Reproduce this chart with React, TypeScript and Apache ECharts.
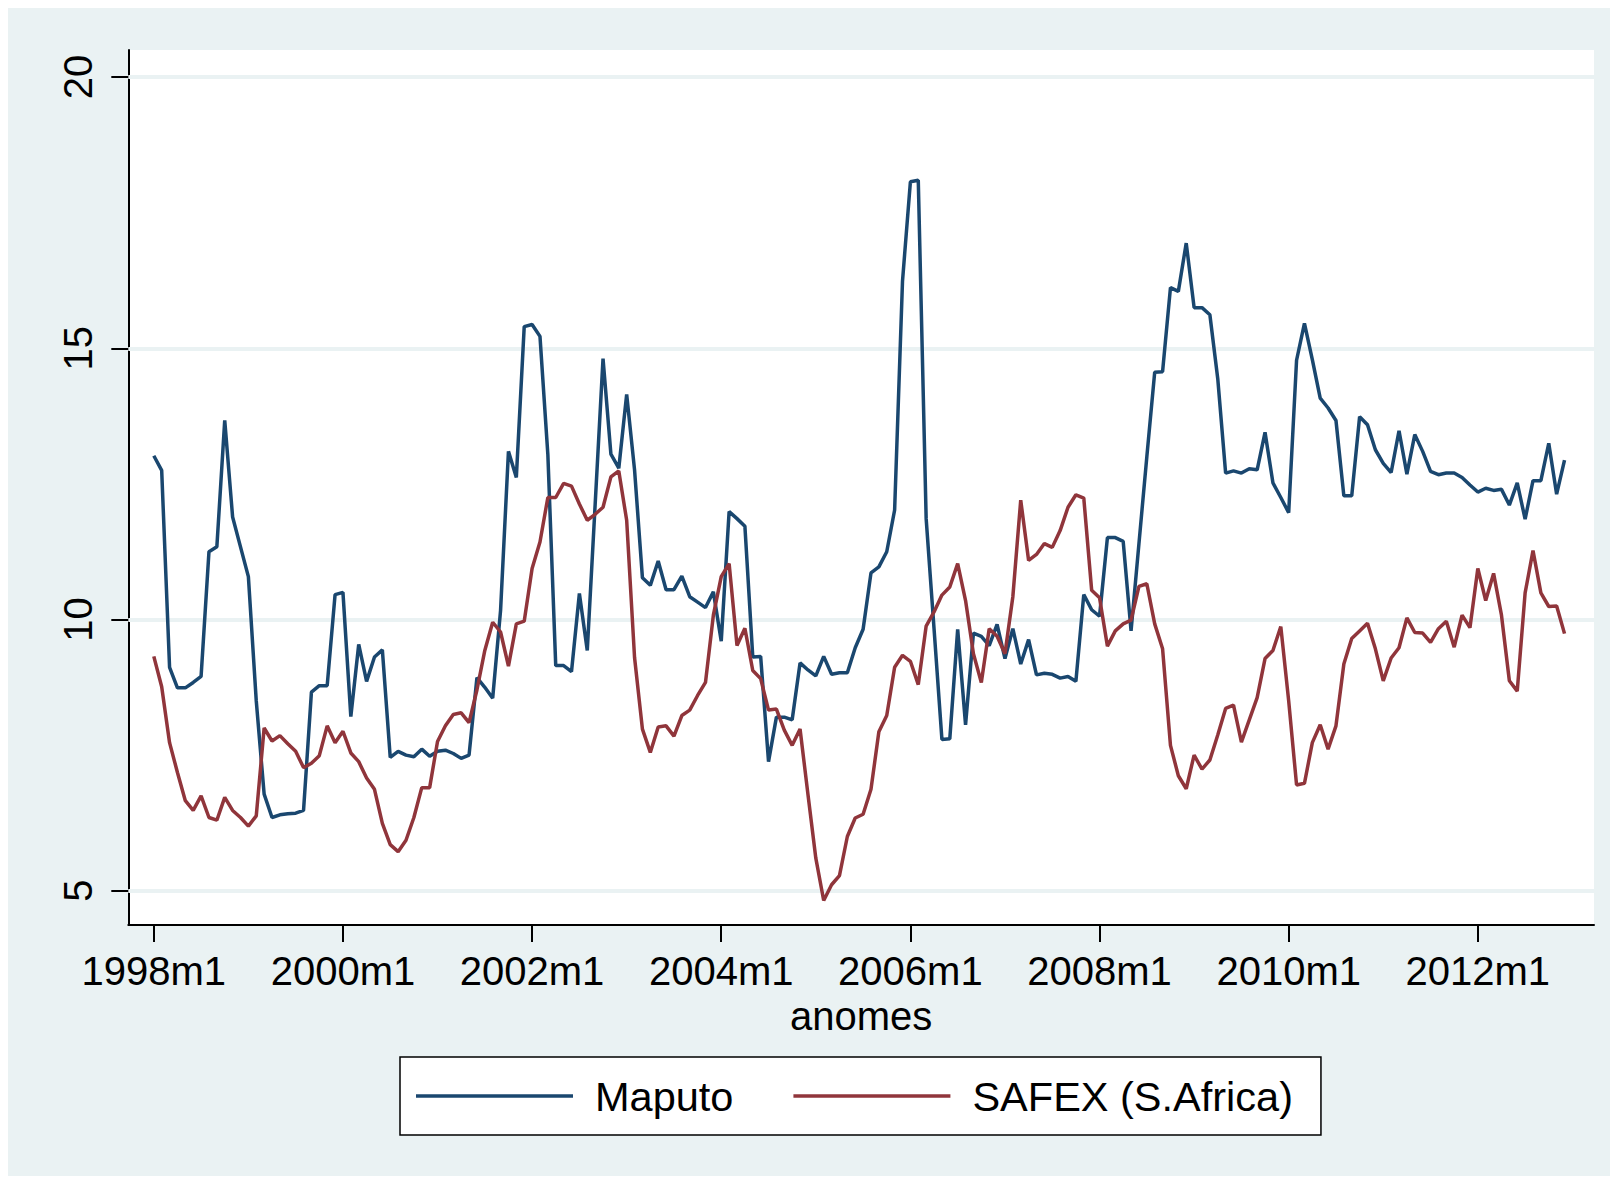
import React, { useEffect, useRef } from "react";
import * as echarts from "echarts";

// Monthly series, 1998m1 .. 2012m12 (180 months)
const maputo = [
  13.02, 12.75, 9.12, 8.74, 8.74, 8.84, 8.95, 11.25, 11.34, 13.67, 11.89, 11.34,
  10.79, 8.5, 6.78, 6.35, 6.4, 6.42, 6.43, 6.48, 8.66, 8.78, 8.78, 10.46,
  10.5, 8.21, 9.54, 8.86, 9.31, 9.44, 7.46, 7.57, 7.5, 7.47, 7.61, 7.48,
  7.57, 7.59, 7.53, 7.44, 7.5, 8.93, 8.75, 8.55, 10.17, 13.1, 12.62, 15.4,
  15.44, 15.22, 13.04, 9.15, 9.15, 9.04, 10.48, 9.43, 12.12, 14.81, 13.05, 12.79,
  14.15, 12.76, 10.77, 10.63, 11.08, 10.55, 10.55, 10.8, 10.42, 10.32, 10.22, 10.51,
  9.6, 11.99, 11.86, 11.72, 9.31, 9.32, 7.38, 8.2, 8.2, 8.15, 9.2, 9.07,
  8.96, 9.32, 8.99, 9.02, 9.02, 9.48, 9.82, 10.86, 10.97, 11.25, 12.02, 16.24,
  18.07, 18.1, 11.86, 9.83, 7.79, 7.8, 9.82, 8.06, 9.75, 9.69, 9.52, 9.91,
  9.28, 9.83, 9.18, 9.63, 8.98, 9.01, 8.99, 8.92, 8.95, 8.86, 10.46, 10.18,
  10.06, 11.51, 11.51, 11.44, 9.79, 11.4, 13.0, 14.56, 14.57, 16.12, 16.05, 16.94,
  15.75, 15.75, 15.62, 14.44, 12.7, 12.74, 12.7, 12.78, 12.76, 13.45, 12.52, 12.25,
  11.97, 14.78, 15.46, 14.79, 14.08, 13.9, 13.67, 12.28, 12.28, 13.74, 13.59, 13.13,
  12.88, 12.71, 13.48, 12.68, 13.41, 13.1, 12.73, 12.67, 12.7, 12.7, 12.62, 12.48,
  12.35, 12.42, 12.38, 12.4, 12.11, 12.52, 11.85, 12.56, 12.56, 13.25, 12.31, 12.94,
];

const safex = [
  9.32, 8.76, 7.73, 7.18, 6.66, 6.48, 6.75, 6.35, 6.3, 6.72, 6.48, 6.35,
  6.19, 6.38, 8.0, 7.76, 7.86, 7.71, 7.57, 7.27, 7.35, 7.49, 8.04, 7.73,
  7.94, 7.54, 7.38, 7.08, 6.87, 6.24, 5.85, 5.72, 5.93, 6.35, 6.9, 6.9,
  7.75, 8.04, 8.25, 8.28, 8.1, 8.7, 9.43, 9.95, 9.77, 9.14, 9.92, 9.97,
  10.94, 11.43, 12.25, 12.25, 12.51, 12.46, 12.13, 11.83, 11.94, 12.07, 12.63, 12.74,
  11.83, 9.3, 7.98, 7.55, 8.02, 8.04, 7.85, 8.23, 8.33, 8.6, 8.84, 10.08,
  10.79, 11.03, 9.52, 9.84, 9.06, 8.91, 8.33, 8.35, 7.96, 7.68, 7.98, 6.78,
  5.6, 4.82, 5.11, 5.28, 6.0, 6.34, 6.41, 6.87, 7.93, 8.23, 9.12, 9.34,
  9.23, 8.8, 9.88, 10.14, 10.45, 10.6, 11.03, 10.35, 9.37, 8.84, 9.83, 9.69,
  9.37, 10.42, 12.2, 11.09, 11.2, 11.4, 11.33, 11.64, 12.07, 12.3, 12.24, 10.54,
  10.4, 9.51, 9.79, 9.92, 9.99, 10.61, 10.66, 9.92, 9.46, 7.68, 7.12, 6.88,
  7.5, 7.24, 7.41, 7.87, 8.36, 8.42, 7.74, 8.15, 8.56, 9.28, 9.43, 9.87,
  8.5, 6.95, 6.98, 7.73, 8.06, 7.61, 8.04, 9.18, 9.65, 9.79, 9.93, 9.46,
  8.87, 9.29, 9.48, 10.03, 9.76, 9.75, 9.58, 9.83, 9.97, 9.49, 10.08, 9.85,
  10.94, 10.35, 10.85, 10.08, 8.87, 8.68, 10.49, 11.27, 10.49, 10.24, 10.25, 9.74,
];

const xTickMonths = [0, 24, 48, 72, 96, 120, 144, 168];
const xTickLabels = ["1998m1", "2000m1", "2002m1", "2004m1", "2006m1", "2008m1", "2010m1", "2012m1"];
const yTicks = [5, 10, 15, 20];
const seriesNames = ["Maputo", "SAFEX (S.Africa)"];

export default function App() {
  const ref = useRef<HTMLDivElement>(null);

  useEffect(() => {
    const chart = echarts.init(ref.current as HTMLDivElement, null, { renderer: "svg" });
    const font = "'Liberation Sans', Arial, Helvetica, sans-serif";
    const axisColor = "#000000";

    chart.setOption({
      animation: false,
      backgroundColor: "#eaf2f3",
      grid: {
        left: 120.3,
        top: 42,
        right: 16,
        bottom: 251,
        show: true,
        backgroundColor: "#ffffff",
        borderWidth: 0,
      },
      xAxis: {
        type: "value",
        min: -3.236,
        max: 182.74,
        axisLine: { show: true, onZero: false, lineStyle: { color: axisColor, width: 2 } },
        axisTick: {
          show: true,
          length: 17,
          customValues: xTickMonths,
          lineStyle: { color: axisColor, width: 2 },
        },
        axisLabel: {
          customValues: xTickMonths,
          formatter: (v: number) => {
            const k = xTickMonths.indexOf(Math.round(v));
            return k >= 0 ? xTickLabels[k] : "";
          },
          fontSize: 40,
          fontFamily: font,
          color: "#000",
          margin: 26,
        },
        splitLine: { show: false },
        name: "anomes",
        nameLocation: "middle",
        nameGap: 62,
        nameTextStyle: { fontSize: 40, fontFamily: font, color: "#000" },
      },
      yAxis: {
        type: "value",
        min: 4.368,
        max: 20.5,
        axisLine: { show: true, onZero: false, lineStyle: { color: axisColor, width: 2 } },
        axisTick: {
          show: true,
          length: 17,
          customValues: yTicks,
          lineStyle: { color: axisColor, width: 2 },
        },
        axisLabel: {
          customValues: yTicks,
          rotate: 90,
          fontSize: 40,
          fontFamily: font,
          color: "#000",
          margin: 30,
        },
        splitLine: { show: false },
      },
      legend: {
        data: seriesNames,
        left: 392,
        top: 1049,
        orient: "horizontal",
        icon: "rect",
        itemWidth: 157,
        itemHeight: 3.5,
        itemGap: 60,
        padding: [18, 28, 18, 16],
        borderColor: "#000",
        borderWidth: 1.5,
        borderRadius: 0,
        backgroundColor: "#ffffff",
        textStyle: { fontSize: 41.5, fontFamily: font, color: "#000", padding: [0, 0, 0, 17] },
      },
      series: [
        {
          name: seriesNames[0],
          type: "line",
          data: maputo.map((v, i) => [i, v]),
          symbol: "none",
          showSymbol: false,
          lineStyle: { color: "#1a476f", width: 3.5 },
          itemStyle: { color: "#1a476f" },
          z: 3,
          markLine: {
            silent: true,
            symbol: "none",
            z: 1,
            label: { show: false },
            lineStyle: { type: "solid", color: "#eaf2f3", width: 4 },
            data: yTicks.map((t) => ({ yAxis: t })),
          },
        },
        {
          name: seriesNames[1],
          type: "line",
          data: safex.map((v, i) => [i, v]),
          symbol: "none",
          showSymbol: false,
          lineStyle: { color: "#90353b", width: 3.5 },
          itemStyle: { color: "#90353b" },
          z: 4,
        },
      ],
    });

    return () => chart.dispose();
  }, []);

  return <div ref={ref} style={{ width: 1602, height: 1168 }} />;
}
